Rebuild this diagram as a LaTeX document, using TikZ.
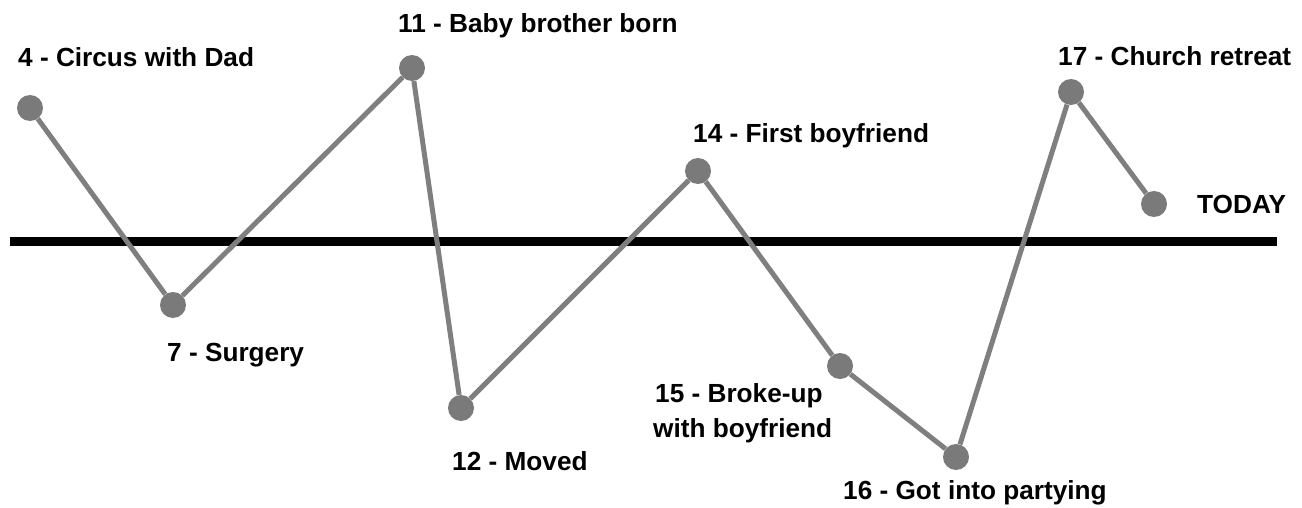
\documentclass[tikz,border=0pt]{standalone}
\usepackage{fontspec}
\setmainfont{Liberation Sans}
\definecolor{dotgray}{HTML}{7A7A7A}
\definecolor{linegray}{HTML}{7F7F7F}
\begin{document}
\begin{tikzpicture}[x=1pt,y=-1pt,
  dot/.style={circle,fill=dotgray,inner sep=0pt,minimum size=26pt},
  link/.style={draw=linegray,line width=5pt},
  lbl/.style={anchor=base west,inner sep=0pt,font=\bfseries\fontsize{26.2}{34}\selectfont}]
\useasboundingbox (0,0) rectangle (1302,508);
\coordinate (axl) at (10,241);
\coordinate (axr) at (1277,241);
\draw[line width=9pt,black] (axl) -- (axr);
\node[dot] (p1) at (30,108) {};
\node[dot] (p2) at (173,305) {};
\node[dot] (p3) at (412,68) {};
\node[dot] (p4) at (461,408) {};
\node[dot] (p5) at (698,171) {};
\node[dot] (p6) at (840,366) {};
\node[dot] (p7) at (956,457) {};
\node[dot] (p8) at (1071,92) {};
\node[dot] (p9) at (1154,204) {};
\draw[link] (p1) -- (p2) -- (p3) -- (p4) -- (p5) -- (p6) -- (p7) -- (p8) -- (p9);
\node[lbl] (l1) at (18,67) {4 - Circus with Dad};
\node[lbl] (l2) at (167,361) {7 - Surgery};
\node[lbl] (l3) at (398,33) {11 - Baby brother born};
\node[lbl] (l4) at (452,470) {12 - Moved};
\node[lbl] (l5) at (693,143) {14 - First boyfriend};
\node[lbl] (l6a) at (655,402) {15 - Broke-up};
\node[lbl] (l6b) at (653,437) {with boyfriend};
\node[lbl] (l7) at (843,499) {16 - Got into partying};
\node[lbl] (l8) at (1058,66) {17 - Church retreat};
\node[lbl] (l9) at (1197,213) {TODAY};
\end{tikzpicture}
\end{document}
